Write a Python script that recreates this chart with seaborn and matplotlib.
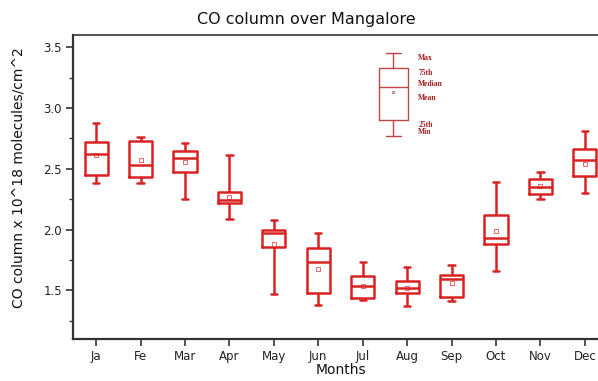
import numpy as np
import pandas as pd
import matplotlib
matplotlib.use("Agg")
import matplotlib.pyplot as plt
import seaborn as sns

# Monthly CO column statistics (x 10^18 molecules/cm^2)
months = ["Ja", "Fe", "Mar", "Apr", "May", "Jun", "Jul", "Aug", "Sep", "Oct", "Nov", "Dec"]
co_min = [2.38, 2.38, 2.25, 2.09, 1.47, 1.38, 1.42, 1.37, 1.41, 1.66, 2.25, 2.30]
co_q1 = [2.45, 2.43, 2.47, 2.22, 1.86, 1.48, 1.44, 1.48, 1.45, 1.88, 2.29, 2.44]
co_median = [2.62, 2.53, 2.59, 2.24, 1.97, 1.73, 1.54, 1.52, 1.59, 1.93, 2.35, 2.57]
co_q3 = [2.72, 2.73, 2.65, 2.31, 2.00, 1.85, 1.62, 1.58, 1.63, 2.12, 2.42, 2.66]
co_max = [2.88, 2.76, 2.71, 2.61, 2.08, 1.97, 1.73, 1.69, 1.71, 2.39, 2.47, 2.81]
co_mean = [2.61, 2.57, 2.56, 2.27, 1.88, 1.68, 1.54, 1.52, 1.56, 1.99, 2.36, 2.54]

# Key box explaining the statistics
key_stats = dict(whislo=2.77, q1=2.90, med=3.17, q3=3.33, whishi=3.45, mean=3.13)
key_labels = ["Max", "75th", "Median", "Mean", "25th", "Min"]
key_label_y = [3.41, 3.29, 3.20, 3.08, 2.86, 2.80]

red = "#d92323"
key_red = "#c04545"

sns.set_style("ticks")
plt.rcParams["font.family"] = ["DejaVu Sans"]

# Long-form table: the five summary values per month give exact quartiles
rows = []
for i, m in enumerate(months):
    for v in (co_min[i], co_q1[i], co_median[i], co_q3[i], co_max[i]):
        rows.append({"month": m, "co": v})
df = pd.DataFrame(rows)

fig = plt.figure(figsize=(5.98, 3.81), dpi=100)
ax = fig.add_axes([0.122, 0.110, 0.900, 0.798])

sns.boxplot(data=df, x="month", y="co", order=months, whis=np.inf,
            fill=False, color=red, linecolor=red, linewidth=1.8, width=0.52,
            capwidths=0.14, ax=ax)
sns.pointplot(x=months, y=co_mean, order=months, linestyle="none", marker="s",
              markersize=3.5, markerfacecolor="none", markeredgewidth=0.6,
              color="#e05050", errorbar=None, ax=ax)

# Key box
ax.bxp([dict(key_stats, fliers=[])], positions=[6.69], widths=0.65,
       showmeans=True, manage_ticks=False,
       boxprops=dict(color=key_red, linewidth=1.0),
       whiskerprops=dict(color=key_red, linewidth=1.0),
       capprops=dict(color=key_red, linewidth=1.0),
       medianprops=dict(color=key_red, linewidth=1.0),
       meanprops=dict(marker="s", markersize=2, markerfacecolor="none",
                      markeredgecolor=key_red, markeredgewidth=0.5))
for lab, yy in zip(key_labels, key_label_y):
    ax.text(7.25, yy, lab, fontsize=5.5, color="#a02020", fontweight="bold",
            family="Liberation Serif", va="center", ha="left")

ax.set_xlim(-0.52, 11.59)
ax.set_ylim(1.1, 3.6)
ax.set_yticks([1.5, 2.0, 2.5, 3.0, 3.5])
ax.set_yticks(np.arange(1.25, 3.6, 0.5), minor=True)
ax.set_xticks(range(len(months)))
ax.set_xticklabels(months)

ax.tick_params(axis="both", which="major", labelsize=8.5, length=5, width=1.2,
               color="#333333", labelcolor="#222222", pad=3)
ax.tick_params(axis="y", which="minor", length=3, width=1.0, color="#333333")

for side in ("left", "bottom", "top"):
    ax.spines[side].set_visible(True)
    ax.spines[side].set_color("#333333")
ax.spines["left"].set_linewidth(1.6)
ax.spines["bottom"].set_linewidth(1.6)
ax.spines["top"].set_linewidth(1.2)
ax.spines["right"].set_visible(False)

ax.set_xlabel("Months", fontsize=10, color="#111111")
ax.xaxis.set_label_coords(0.498, -0.078)
ax.xaxis.label.set_va("top")
ax.set_ylabel("CO column x 10^18 molecules/cm^2", fontsize=10, color="#111111")
ax.yaxis.set_label_coords(-0.089, 0.53)
fig.text(0.513, 0.95, "CO column over Mangalore", fontsize=11.5, color="#111111",
         ha="center", va="center")

fig.savefig("out.png", dpi=100)
